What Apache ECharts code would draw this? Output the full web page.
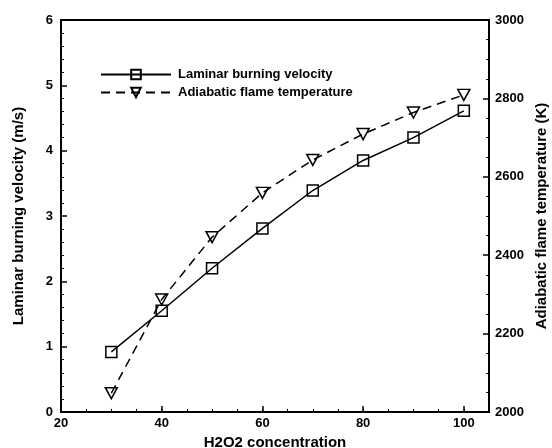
<!DOCTYPE html>
<html>
<head>
<meta charset="utf-8">
<script src="https://cdn.jsdelivr.net/npm/echarts@6/dist/echarts.min.js"></script>
<style>
  html, body { margin: 0; padding: 0; background: #fff; }
  #chart { width: 552px; height: 448px; }
</style>
</head>
<body>
<div id="chart"></div>
<script>
// H2O2 concentration (x)
var concentration = [30, 40, 50, 60, 70, 80, 90, 100];
// laminar burning velocity, m/s (left axis)
var velocity = [0.92, 1.55, 2.20, 2.81, 3.39, 3.85, 4.20, 4.61];
// adiabatic flame temperature, K (right axis)
var temperature = [2048, 2287, 2446, 2559, 2643, 2709, 2764, 2809];

var seriesNames = ['Laminar burning velocity', 'Adiabatic flame temperature'];

var font = 'Liberation Sans, Arial, sans-serif';
var labelStyle = { color: '#000', fontWeight: 'bold', fontSize: 13, fontFamily: font };
var nameStyle = { color: '#000', fontWeight: 'bold', fontSize: 15, fontFamily: font };
var lineAxis = { show: true, lineStyle: { color: '#000', width: 2 } };
var majorTick = { show: true, inside: true, length: 6, lineStyle: { color: '#000', width: 1.5 } };

function pairs(xs, ys) {
    return xs.map(function (x, i) { return [x, ys[i]]; });
}

var chart = echarts.init(document.getElementById('chart'));

var option = {
    backgroundColor: '#fff',
    animation: false,
    grid: {
        left: 61, right: 63, top: 20, bottom: 36,
        outerBoundsMode: 'none',
        show: true, borderColor: '#000', borderWidth: 2
    },
    legend: {
        left: 95, top: 63,
        orient: 'vertical',
        itemWidth: 70, itemHeight: 12, itemGap: 5,
        textStyle: { color: '#000', fontWeight: 'bold', fontSize: 13, fontFamily: font, padding: [0, 0, 0, 2] },
        data: seriesNames
    },
    xAxis: [
        {
            type: 'value', min: 20, max: 105, interval: 20,
            name: 'H2O2 concentration', nameLocation: 'middle', nameGap: 21,
            nameTextStyle: nameStyle,
            axisLine: lineAxis,
            axisTick: majorTick,
            axisLabel: Object.assign({ margin: 5, showMaxLabel: false }, labelStyle),
            splitLine: { show: false }
        },
        {
            type: 'value', min: 20, max: 105, interval: 5,
            position: 'bottom', offset: 0,
            axisLine: { show: false },
            axisTick: { show: true, inside: true, length: 3, lineStyle: { color: '#000', width: 1 } },
            axisLabel: { show: false },
            splitLine: { show: false }
        }
    ],
    yAxis: [
        {
            type: 'value', min: 0, max: 6, interval: 1,
            name: 'Laminar burning velocity (m/s)', nameLocation: 'middle', nameGap: 35,
            nameTextStyle: nameStyle,
            axisLine: lineAxis,
            axisTick: majorTick,
            minorTick: { show: true, splitNumber: 5, length: 3, lineStyle: { color: '#000', width: 1 } },
            axisLabel: Object.assign({ margin: 8 }, labelStyle),
            splitLine: { show: false }
        },
        {
            type: 'value', min: 2000, max: 3000, interval: 200, position: 'right',
            name: 'Adiabatic flame temperature (K)', nameLocation: 'middle', nameGap: 45,
            nameTextStyle: nameStyle,
            axisLine: lineAxis,
            axisTick: majorTick,
            minorTick: { show: true, splitNumber: 4, length: 3, lineStyle: { color: '#000', width: 1 } },
            axisLabel: Object.assign({ margin: 6, formatter: function (v) { return String(v); } }, labelStyle),
            splitLine: { show: false }
        }
    ],
    series: [
        {
            name: seriesNames[0],
            type: 'line',
            xAxisIndex: 0, yAxisIndex: 0,
            symbol: 'rect', symbolSize: 11,
            showAllSymbol: true,
            lineStyle: { color: '#000', width: 1.5 },
            itemStyle: { color: 'rgba(0,0,0,0)', borderColor: '#000', borderWidth: 1.5 },
            data: pairs(concentration, velocity)
        },
        {
            name: seriesNames[1],
            type: 'line',
            xAxisIndex: 0, yAxisIndex: 1,
            symbol: 'triangle', symbolSize: [12, 11], symbolRotate: 180,
            showAllSymbol: true,
            lineStyle: { color: '#000', width: 1.5, type: [9, 6] },
            itemStyle: { color: 'rgba(0,0,0,0)', borderColor: '#000', borderWidth: 1.5 },
            data: pairs(concentration, temperature)
        }
    ]
};

chart.setOption(option);
</script>
</body>
</html>
